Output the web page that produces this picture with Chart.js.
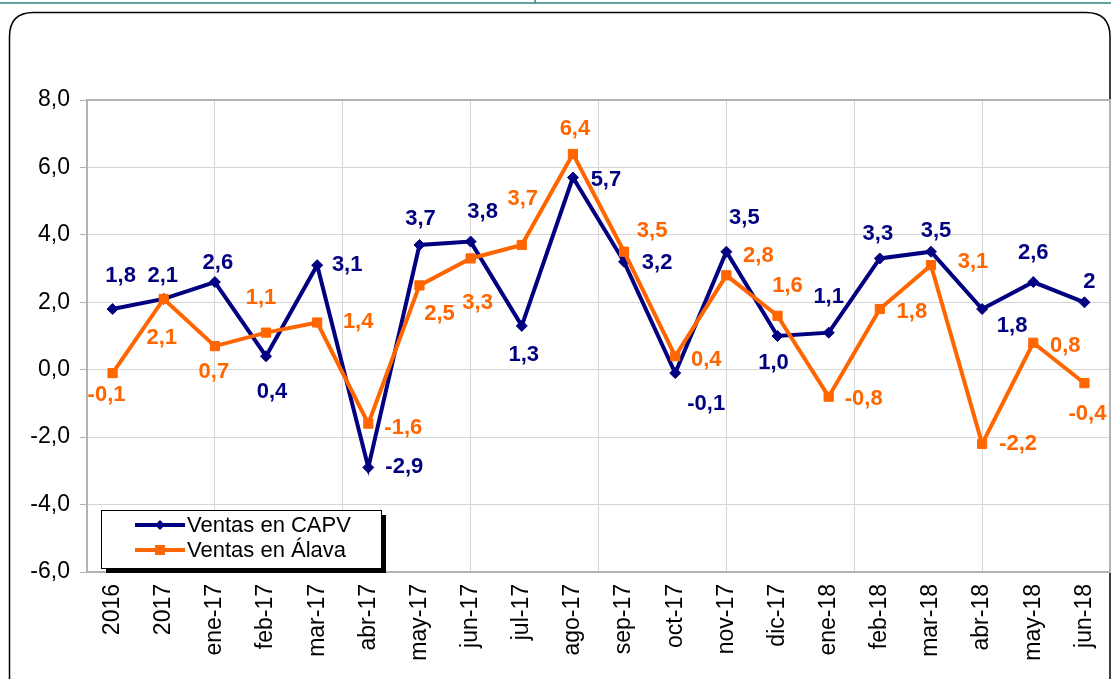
<!DOCTYPE html>
<html>
<head>
<meta charset="utf-8">
<script src="https://cdn.jsdelivr.net/npm/chart.js@4/dist/chart.umd.min.js"></script>
<style>
  html, body { margin: 0; padding: 0; background: #ffffff; }
  #wrap { position: relative; width: 1111px; height: 679px; }
</style>
</head>
<body>
<div id="wrap"><canvas id="c" width="1111" height="679"></canvas></div>
<script>
// ---- data ----
const categories = ['2016','2017','ene-17','feb-17','mar-17','abr-17','may-17','jun-17','jul-17','ago-17','sep-17','oct-17','nov-17','dic-17','ene-18','feb-18','mar-18','abr-18','may-18','jun-18'];
const ventasCAPV  = [1.8, 2.1, 2.6, 0.4, 3.1, -2.9, 3.7, 3.8, 1.3, 5.7, 3.2, -0.1, 3.5, 1.0, 1.1, 3.3, 3.5, 1.8, 2.6, 2];
const ventasAlava = [-0.1, 2.1, 0.7, 1.1, 1.4, -1.6, 2.5, 3.3, 3.7, 6.4, 3.5, 0.4, 2.8, 1.6, -0.8, 1.8, 3.1, -2.2, 0.8, -0.4];
const capvLabelText  = ['1,8','2,1','2,6','0,4','3,1','-2,9','3,7','3,8','1,3','5,7','3,2','-0,1','3,5','1,0','1,1','3,3','3,5','1,8','2,6','2'];
const alavaLabelText = ['-0,1','2,1','0,7','1,1','1,4','-1,6','2,5','3,3','3,7','6,4','3,5','0,4','2,8','1,6','-0,8','1,8','3,1','-2,2','0,8','-0,4'];
const seriesNames = ['Ventas en CAPV', 'Ventas en Álava'];
const yMin = -6, yMax = 8, yStep = 2;

// ---- label placement (pixel offsets from each point) ----
const capvLabelOffset  = [[8,-33],[-1,-23],[3,-19],[6,36],[30,0],[36,-1],[1,-26],[12,-30],[2,29],[33,2],[33,1],[31,31],[18,-34],[-4,27],[0,-36],[-2,-25],[5,-21],[30,17],[0,-29],[5,-20]];
const alavaLabelOffset = [[-6,22],[-2,39],[-1,26],[-5,-35],[41,-1],[35,4],[20,29],[7,44],[1,-46],[2,-25],[28,-21],[31,4],[32,-19],[10,-30],[35,2],[32,3],[42,-3],[36,0],[32,3],[3,31]];

const NAVY = '#000080', ORANGE = '#FF6600';
const FONT = '"Liberation Sans", Arial, sans-serif';

const framePlugin = {
  id: 'frame',
  beforeDraw(chart) {
    const ctx = chart.ctx;
    ctx.save();
    ctx.fillStyle = '#ffffff';
    ctx.fillRect(0, 0, chart.width, chart.height);
    ctx.strokeStyle = '#2f8481';
    ctx.lineWidth = 1.5;
    ctx.beginPath(); ctx.moveTo(0, 3); ctx.lineTo(chart.width, 3); ctx.stroke();
    ctx.beginPath(); ctx.moveTo(535, 0); ctx.lineTo(535, 3); ctx.stroke();
    ctx.strokeStyle = '#000000';
    ctx.lineWidth = 1.5;
    const x = 9.5, y = 12.5, w = 1100.5, h = 720, r = 24;
    ctx.beginPath();
    ctx.moveTo(x + r, y);
    ctx.lineTo(x + w - r, y);
    ctx.quadraticCurveTo(x + w, y, x + w, y + r);
    ctx.lineTo(x + w, y + h);
    ctx.moveTo(x, y + h);
    ctx.lineTo(x, y + r);
    ctx.quadraticCurveTo(x, y, x + r, y);
    ctx.stroke();
    ctx.restore();
  },
  afterDraw(chart) {
    const a = chart.chartArea, ctx = chart.ctx;
    ctx.save();
    ctx.strokeStyle = '#b3b3b3';
    ctx.lineWidth = 2;
    ctx.strokeRect(a.left, a.top, a.right - a.left, a.bottom - a.top);
    ctx.restore();
  }
};

const labelPlugin = {
  id: 'pointLabels',
  afterDatasetsDraw(chart) {
    const ctx = chart.ctx;
    ctx.save();
    ctx.font = 'bold 22px ' + FONT;
    ctx.textAlign = 'center';
    ctx.textBaseline = 'middle';
    chart.data.datasets.forEach((ds, di) => {
      const meta = chart.getDatasetMeta(di);
      ctx.fillStyle = ds.borderColor;
      meta.data.forEach((pt, i) => {
        const off = ds.labelOffset[i];
        ctx.fillText(ds.labelText[i], pt.x + off[0], pt.y + off[1]);
      });
    });
    ctx.restore();
  }
};

const legendPlugin = {
  id: 'boxLegend',
  afterDraw(chart) {
    const ctx = chart.ctx;
    const bx = 101, by = 510, bw = 280, bh = 58;
    ctx.save();
    ctx.fillStyle = '#000000';
    ctx.fillRect(bx + 5, by + 5, bw, bh);
    ctx.fillStyle = '#ffffff';
    ctx.fillRect(bx, by, bw, bh);
    ctx.strokeStyle = '#000000';
    ctx.lineWidth = 1;
    ctx.strokeRect(bx + 0.5, by + 0.5, bw, bh);
    chart.data.datasets.forEach((ds, i) => {
      const yy = 525 + i * 25;
      ctx.strokeStyle = ds.borderColor;
      ctx.lineWidth = 4;
      ctx.beginPath(); ctx.moveTo(135, yy); ctx.lineTo(185, yy); ctx.stroke();
      ctx.fillStyle = ds.borderColor;
      ctx.beginPath();
      if (ds.pointStyle === 'rectRot') {
        ctx.moveTo(155, yy); ctx.lineTo(160, yy - 5); ctx.lineTo(165, yy); ctx.lineTo(160, yy + 5);
        ctx.closePath();
      } else {
        ctx.rect(155, yy - 5, 10, 10);
      }
      ctx.fill();
      ctx.fillStyle = '#000000';
      ctx.font = '22px ' + FONT;
      ctx.textAlign = 'left';
      ctx.textBaseline = 'middle';
      ctx.fillText(ds.label, 187, yy + 1);
    });
    ctx.restore();
  }
};

const gridPositions = [];
for (let v = -0.5; v <= categories.length - 0.5 + 1e-9; v += 2.5) gridPositions.push(v);

new Chart(document.getElementById('c'), {
  type: 'line',
  data: {
    labels: categories,
    datasets: [
      {
        label: seriesNames[0], data: ventasCAPV, labelText: capvLabelText, labelOffset: capvLabelOffset,
        borderColor: NAVY, backgroundColor: NAVY, borderWidth: 4,
        pointStyle: 'rectRot', pointRadius: 5.5, pointBorderWidth: 1, pointBackgroundColor: NAVY, pointBorderColor: NAVY,
        tension: 0, order: 2
      },
      {
        label: seriesNames[1], data: ventasAlava, labelText: alavaLabelText, labelOffset: alavaLabelOffset,
        borderColor: ORANGE, backgroundColor: ORANGE, borderWidth: 4,
        pointStyle: 'rect', pointRadius: 6.5, pointBorderWidth: 1, pointBackgroundColor: ORANGE, pointBorderColor: ORANGE,
        tension: 0, order: 1
      }
    ]
  },
  options: {
    responsive: false,
    animation: false,
    devicePixelRatio: 1,
    layout: { autoPadding: false, padding: { top: 100, left: 0, right: 1, bottom: 0 } },
    plugins: { legend: { display: false }, tooltip: { enabled: false } },
    scales: {
      x: {
        type: 'category',
        offset: true,
        grid: { display: false, drawTicks: false },
        border: { display: false },
        ticks: {
          color: '#000000', font: { family: FONT, size: 23 },
          minRotation: 90, maxRotation: 90, autoSkip: false, padding: 12
        },
        afterFit(s) { s.height = 107; s.paddingLeft = 0; s.paddingRight = 0; }
      },
      xg: {
        type: 'linear', position: 'bottom',
        min: -0.5, max: categories.length - 0.5,
        ticks: { display: false },
        grid: { color: '#d6d6d6', lineWidth: 1, drawTicks: false },
        border: { display: false },
        afterBuildTicks(s) { s.ticks = gridPositions.map(v => ({ value: v })); },
        afterFit(s) { s.height = 0; s.paddingLeft = 0; s.paddingRight = 0; }
      },
      y: {
        min: yMin, max: yMax,
        ticks: {
          stepSize: yStep, color: '#000000', font: { family: FONT, size: 23 }, padding: 10,
          callback: v => v.toFixed(1).replace('.', ',')
        },
        grid: { color: '#d6d6d6', lineWidth: 1, tickLength: 7, tickColor: '#b3b3b3' },
        border: { display: true, color: '#b3b3b3', width: 2 },
        afterFit(s) { s.width = 87; }
      }
    }
  },
  plugins: [framePlugin, labelPlugin, legendPlugin]
});
</script>
</body>
</html>
